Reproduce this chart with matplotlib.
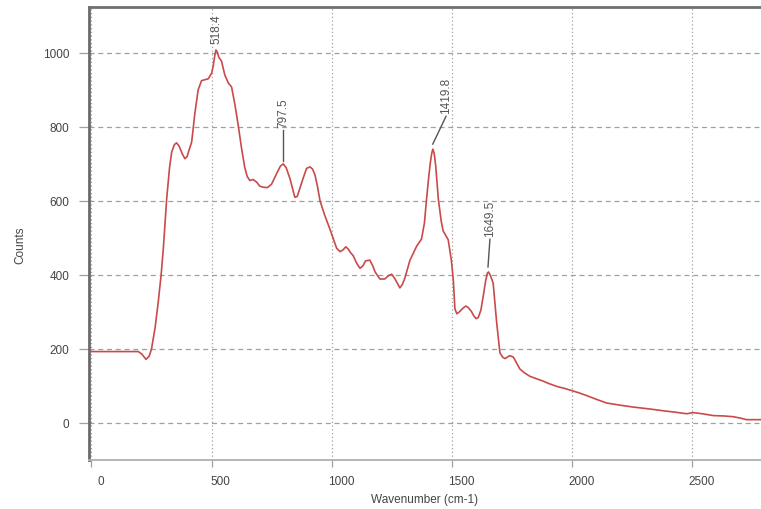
import numpy as np
import matplotlib
matplotlib.use("Agg")
import matplotlib.pyplot as plt
import matplotlib.transforms as mtransforms

# ---- data ----
wavenumber = [0, 100, 195, 210, 227, 240, 250, 265, 278, 290, 299, 313, 325, 334, 345, 354, 365,
              378, 389, 398, 405, 417, 430, 444, 458, 486, 500, 507, 513, 518, 524, 530, 541,
              555, 570, 583, 597, 611, 625, 638, 648, 659, 672, 687, 700, 715, 732, 749, 760,
              772, 786, 798, 810, 826, 846, 856, 865, 881, 895, 909, 920, 930, 940, 951, 970,
              992, 1020, 1034, 1047, 1058, 1068, 1078, 1089, 1103, 1117, 1130, 1140, 1158,
              1170, 1180, 1200, 1220, 1235, 1249, 1262, 1283, 1294, 1304, 1325, 1353, 1373,
              1385, 1394, 1403, 1410, 1416, 1420, 1426, 1432, 1443, 1455, 1463, 1475, 1484,
              1497, 1505, 1512, 1520, 1530, 1545, 1557, 1567, 1580, 1590, 1600, 1609, 1620,
              1630, 1640, 1647, 1652, 1660, 1671, 1685, 1699, 1710, 1720, 1730, 1740, 1755,
              1770, 1782, 1800, 1824, 1850, 1879, 1905, 1935, 1970, 2001, 2030, 2060, 2100,
              2143, 2200, 2254, 2320, 2379, 2430, 2476, 2503, 2540, 2587, 2630, 2670, 2700,
              2725, 2785]
counts = [193, 193, 193, 186, 172, 180, 200, 258, 327, 400, 470, 605, 690, 732, 752, 757, 748,
          727, 714, 720, 735, 759, 835, 900, 925, 930, 945, 966, 992, 1008, 1002, 988, 978,
          940, 918, 908, 860, 803, 740, 690, 666, 655, 658, 651, 640, 637, 636, 645, 660,
          676, 694, 700, 690, 660, 610, 612, 630, 662, 688, 692, 686, 670, 640, 600, 562,
          524, 472, 463, 468, 476, 470, 460, 452, 432, 418, 425, 438, 440,
          425, 408, 389, 389, 398, 402, 390, 365, 375, 392, 440, 478, 497,
          540, 605, 665, 705, 730, 740, 728, 695, 605, 545, 519, 505, 495,
          440, 389, 308, 295, 300, 310, 316, 312, 302, 290, 282, 285, 305,
          344, 385, 405, 408, 398, 378, 275, 190, 178, 174, 178, 182, 178,
          160, 146, 136, 126, 120, 113, 106, 99, 93, 87, 81, 74, 64,
          54, 48, 43, 38, 33, 29, 25, 28, 25, 20, 19, 17, 13,
          9, 9]

peak_positions = [518.4, 797.5, 1419.8, 1649.5]
peak_labels = ["518.4", "797.5", "1419.8", "1649.5"]

x_ticks = [0, 500, 1000, 1500, 2000, 2500]
y_ticks = [0, 200, 400, 600, 800, 1000]

# ---- style ----
plt.rcParams['font.family'] = ['Liberation Sans', 'DejaVu Sans']
W, H, DPI = 761, 510, 100
fig = plt.figure(figsize=(W / DPI, H / DPI), dpi=DPI)
ax = fig.add_axes([89 / W, (H - 461) / H, (W - 89) / W, (461 - 8) / H])

line_color = '#c94a4a'
ax.plot(wavenumber, counts, color=line_color, lw=1.2, zorder=3)

ax.set_xlim(-10, 2785)
ax.set_ylim(-100, 1124)
ax.set_xticks(x_ticks)
ax.set_yticks(y_ticks)

ax.grid(axis='y', color='#a0a0a0', linestyle=(0, (4, 3)), lw=0.9)
ax.grid(axis='x', color='#a0a0a0', linestyle=(0, (1, 2)), lw=0.9)
ax.set_axisbelow(True)

ax.spines['right'].set_visible(False)
ax.spines['top'].set_color('#707070')
ax.spines['top'].set_linewidth(2.0)
ax.spines['left'].set_color('#6a6a6a')
ax.spines['left'].set_linewidth(2.0)
ax.spines['bottom'].set_color('#b0b0b0')
ax.spines['bottom'].set_linewidth(1.3)

ax.tick_params(axis='y', direction='out', length=7, width=0.9, color='#a0a0a0',
               labelsize=8.5, labelcolor='#444444', pad=7)
ax.tick_params(axis='x', direction='out', length=5, width=0.9, color='#a0a0a0',
               labelsize=8.5, labelcolor='#444444', pad=6)

offset = mtransforms.ScaledTranslation(9 / DPI, 0, fig.dpi_scale_trans)
for lbl in ax.get_xticklabels():
    lbl.set_transform(lbl.get_transform() + offset)

ax.set_xlabel('Wavenumber (cm-1)', fontsize=8.5, color='#444444', va='top')
ax.xaxis.set_label_coords(0.5, -0.073)
ax.set_ylabel('Counts', fontsize=8.5, color='#444444')
ax.yaxis.set_label_coords(-0.093, 0.477)

# ---- peak annotations ----
ann_color = '#555555'
peak_heights = np.interp(peak_positions, wavenumber, counts)
styles = [
    dict(gap=10, line=0, dx=0),
    dict(gap=8, line=85, dx=0),
    dict(gap=14, line=75, dx=55),
    dict(gap=15, line=75, dx=8),
]
for px, py, lab, st in zip(peak_positions, peak_heights, peak_labels, styles):
    y0 = py + st['gap']
    y1 = y0 + st['line']
    if st['line'] > 0:
        ax.plot([px, px + st['dx']], [y0, y1], color=ann_color, lw=1.0, zorder=4)
    ax.text(px + st['dx'], y1 + 8, lab, rotation=90, ha='center', va='bottom',
            fontsize=8.5, color=ann_color, zorder=4)

fig.savefig('out.png', dpi=DPI)
